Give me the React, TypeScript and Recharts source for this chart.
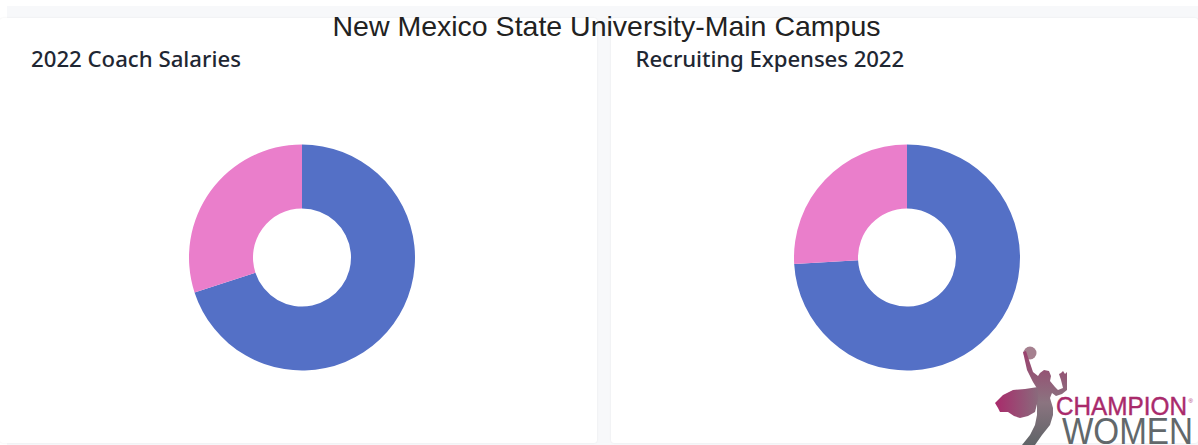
import { Cell, Pie, PieChart } from "recharts";

const slices = ["Men", "Women"];
const sliceColors = ["#5470c6", "#ea7ecb"];
const coachSalaries = [70.0, 30.0];
const recruitingExpenses = [74.1, 25.9];

const toRows = (values: number[]) =>
  slices.map((name, i) => ({ name, value: values[i] }));

const Donut = ({ title, values, left, width }: { title: string; values: number[]; left: number; width: number }) => {
  const isCoach = title.startsWith("2022");
  const centerX = isCoach ? 302 - left : 907 - left;
  return (
    <div
      style={{
        position: "absolute",
        left,
        top: 18,
        width,
        height: 425,
        background: "#fff",
        borderRadius: 3,
        boxShadow: "0 0 2px rgba(0,0,0,0.08)",
      }}
    >
      <div
        style={{
          position: "absolute",
          left: isCoach ? 31 : 24.5,
          top: 26,
          fontFamily: "'Noto Sans', sans-serif",
          fontSize: 22.2,
          fontWeight: 500,
          letterSpacing: isCoach ? 0 : -0.08,
          lineHeight: "30px",
          color: "#1f2733",
          whiteSpace: "nowrap",
        }}
      >
        {title}
      </div>
      <PieChart
        width={width}
        height={425}
        margin={{ top: 0, right: 0, bottom: 0, left: 0 }}
        style={{ position: "absolute", left: 0, top: 0 }}
      >
        <Pie
          data={toRows(values)}
          dataKey="value"
          cx={centerX}
          cy={239.5}
          innerRadius={49}
          outerRadius={113}
          startAngle={90}
          endAngle={-270}
          stroke="none"
          isAnimationActive={false}
        >
          {slices.map((name, i) => (
            <Cell key={name} fill={sliceColors[i]} />
          ))}
        </Pie>
      </PieChart>
    </div>
  );
};

const Logo = () => (
  <svg
    width={218}
    height={105}
    viewBox="0 0 218 105"
    style={{ position: "absolute", left: 980, top: 340 }}
  >
    <defs>
      <linearGradient id="cape" x1="0" y1="0" x2="1" y2="0">
        <stop offset="0" stopColor="#a92a6b" />
        <stop offset="1" stopColor="#8a6a7c" />
      </linearGradient>
      <linearGradient id="body" x1="0" y1="0" x2="0" y2="1">
        <stop offset="0" stopColor="#9a3f6d" />
        <stop offset="0.55" stopColor="#8b7480" />
        <stop offset="1" stopColor="#5f6467" />
      </linearGradient>
    </defs>
    <circle cx={50} cy={13} r={6.5} fill="#a5808f" />
    <path
      d="M43 12 L46 11 L49 20 L53 32 L58 36 L60 33 L64 30 L69 31 L71 36 L70 41 L75 47 L78 50 L83 48 L81 40 L79 34 L81 33 L83 31 L85 34 L87 32 L87 40 L87 50 L82 54 L76 56 L72 53 L70 58 L73 68 L73 75 L70 85 L62 95 L55 105 L42 105 L50 95 L55 85 L57 75 L57 60 L58 50 L53 42 L47 30 Z"
      fill="url(#body)"
    />
    <path
      d="M58 47 L45 49 L33 50 L23 55 L15 63 L18 68 L20 72 L28 72 L34 76 L40 78 L48 76 L55 72 L58 60 Z"
      fill="url(#cape)"
    />
    <text x={76} y={75} fontFamily="'Liberation Sans', sans-serif" fontSize={25} fill="#a92a6b" stroke="#a92a6b" strokeWidth={0.4} textLength={131} lengthAdjust="spacingAndGlyphs">
      CHAMPION
    </text>
    <text x={208.5} y={63} fontFamily="'Liberation Sans', sans-serif" fontSize={6} fill="#a92a6b">
      ®
    </text>
    <text x={82} y={104} fontFamily="'Liberation Sans', sans-serif" fontSize={36} fill="#62686b" textLength={131} lengthAdjust="spacingAndGlyphs">
      WOMEN
    </text>
  </svg>
);

const App = () => {
  return (
    <div
      style={{
        position: "absolute",
        left: 0,
        top: 0,
        width: 1198,
        height: 445,
        overflow: "hidden",
        background: "#fff",
      }}
    >
      <div style={{ position: "absolute", left: 7, top: 6, width: 1191, height: 439, background: "#f7f8fa" }} />
      <Donut title="2022 Coach Salaries" values={coachSalaries} left={0} width={597} />
      <Donut title="Recruiting Expenses 2022" values={recruitingExpenses} left={611} width={587} />
      <div
        style={{
          position: "absolute",
          left: 0,
          width: 1213,
          top: 10,
          textAlign: "center",
          fontFamily: "'Liberation Sans', Arial, sans-serif",
          fontSize: 28.5,
          lineHeight: "32px",
          color: "#222",
        }}
      >
        New Mexico State University-Main Campus
      </div>
      <Logo />
    </div>
  );
};

export default App;
